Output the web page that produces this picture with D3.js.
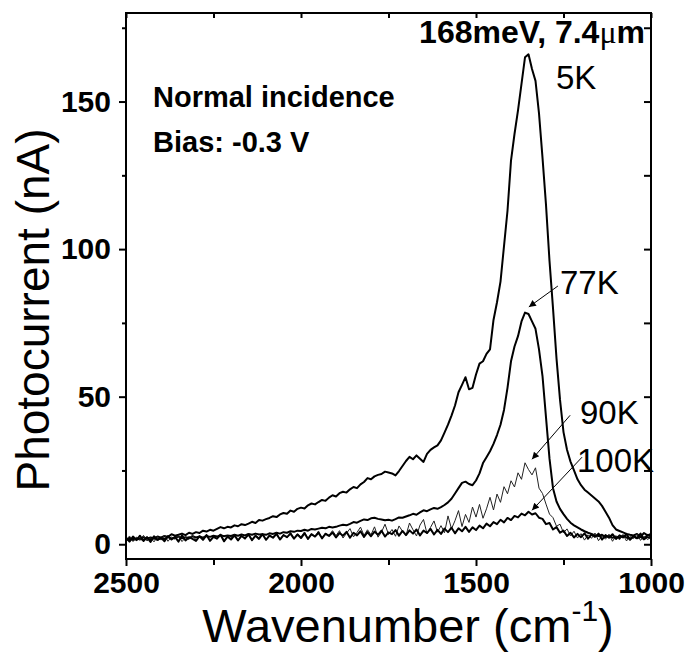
<!DOCTYPE html>
<html>
<head>
<meta charset="utf-8">
<script src="https://cdn.jsdelivr.net/npm/d3@7"></script>
<style>
  body { margin: 0; background: white; }
  svg { display: block; font-family: "Liberation Sans", Arial, sans-serif; }
</style>
</head>
<body>
<svg id="chart"></svg>
<script>
//wavenumber grid: 2500 -> 1000 cm-1, one value every 10 cm-1
const WN_START = 2500, WN_STEP = 10;

//photocurrent (nA), rows of 100 cm-1
const current5K = [
    1.5, 2.2, 1.4, 2.0, 1.6, 2.4, 1.8, 2.3, 2.0, 2.6,
    2.2, 2.8, 2.5, 3.4, 2.9, 3.2, 3.6, 3.1, 3.9, 3.5,
    4.1, 3.8, 4.6, 4.3, 4.9, 4.6, 5.2, 5.8, 5.4, 5.9,
    5.7, 6.4, 6.1, 6.8, 6.5, 7.0, 7.6, 7.2, 8.2, 8.0,
    8.5, 8.9, 9.5, 9.2, 10.1, 10.6, 10.3, 11.4, 11.0, 12.0,
    12.4, 12.1, 13.2, 13.8, 13.5, 14.3, 15.0, 14.7, 15.8, 16.6,
    16.2, 17.3, 17.8, 17.5, 18.6, 19.4, 19.0, 20.3, 21.1, 22.4,
    22.0, 23.0, 23.5, 23.8, 24.6, 24.3, 24.0, 23.3, 24.8, 26.5,
    28.2, 29.6, 28.8, 30.1, 29.0, 27.9, 30.6, 32.0, 32.8, 33.5,
    35.2, 37.8, 40.5, 43.6, 47.0, 51.5, 54.0, 56.6, 52.5, 53.0,
    57.5, 61.2, 62.0, 64.5, 66.0, 76.0, 82.0, 89.0, 101.0, 113.0,
    130.0, 139.0, 147.0, 156.0, 165.0, 166.0, 161.0, 157.0, 146.0, 131.0,
    115.0, 96.0, 80.0, 63.0, 49.0, 38.0, 32.0, 28.0, 25.0, 22.0,
    20.0, 18.5, 17.5, 16.5, 15.5, 14.5, 13.0, 11.0, 9.0, 6.5,
    5.0, 4.5, 4.0, 3.5, 3.2, 3.0, 3.5, 2.5, 3.8, 3.0,
    3.5
];

const current77K = [
    1.8, 1.3, 2.1, 1.6, 1.9, 1.4, 2.2, 1.7, 2.0, 1.5,
    2.1, 1.8, 2.4, 1.9, 2.2, 2.6, 2.0, 2.4, 2.1, 2.7,
    2.3, 2.6, 2.2, 2.8, 2.5, 2.9, 2.6, 3.1, 2.7, 3.0,
    2.8, 3.2, 2.9, 3.3, 3.0, 3.5, 3.2, 3.6, 3.3, 3.4,
    3.2, 3.7, 3.5, 3.9, 3.6, 4.1, 3.9, 4.4, 4.2, 4.6,
    4.5, 4.9, 4.6, 5.2, 5.0, 5.3, 5.6, 5.4, 5.9, 5.7,
    5.9, 6.3, 6.6, 6.4, 6.9, 7.5, 7.3, 7.9, 8.4, 8.2,
    8.8, 9.0, 8.6, 8.4, 8.1, 8.3, 8.0, 8.5, 9.1, 9.0,
    9.4, 9.8, 10.3, 10.0, 10.8, 11.5, 11.2, 11.8, 12.3, 12.0,
    12.6, 13.3, 14.2, 15.4, 17.2, 19.0, 20.8, 21.2, 20.4, 20.0,
    21.6, 24.0, 27.5, 29.5, 31.5, 34.0, 37.0, 40.5, 45.5, 53.0,
    62.0, 67.0, 70.5, 75.5, 78.5, 78.0, 75.5, 73.0, 66.0, 57.0,
    43.0, 29.0, 19.0, 14.5, 12.0, 10.2, 8.6, 7.3, 6.4, 5.7,
    5.0, 4.4, 3.9, 3.5, 3.0, 2.8, 3.2, 2.4, 2.9, 2.2,
    2.6, 2.1, 2.9, 2.3, 1.8, 2.7, 2.0, 2.5, 1.7, 2.4,
    2.0
];

const current90K = [
    1.2, 2.8, 0.9, 2.4, 1.5, 3.0, 1.1, 2.2, 0.8, 2.6,
    1.4, 3.1, 1.0, 2.5, 1.7, 2.9, 0.9, 2.3, 1.6, 3.2,
    1.3, 2.7, 1.9, 3.3, 1.0, 2.4, 1.8, 3.5, 1.2, 2.8,
    2.0, 3.4, 1.1, 2.9, 1.7, 3.6, 1.4, 3.0, 2.2, 3.7,
    1.5, 3.2, 2.4, 3.9, 1.6, 3.3, 2.1, 4.0, 1.8, 3.5,
    2.5, 4.2, 1.9, 3.6, 2.7, 4.5, 2.0, 3.8, 3.0, 4.6,
    2.9, 4.6, 2.1, 3.7, 5.3, 2.5, 4.0, 5.8, 3.0, 4.9,
    3.2, 5.9, 2.4, 4.1, 6.8, 3.3, 5.0, 2.7, 6.2, 4.4,
    3.0, 7.2, 4.9, 2.8, 6.5, 8.4, 3.6, 5.7, 7.9, 4.1,
    6.3, 3.9, 9.6, 5.2, 8.0, 11.4, 6.0, 10.1, 7.4, 12.6,
    9.2, 13.5, 8.8, 12.0, 15.9, 11.6, 17.0, 14.2, 19.5, 17.1,
    21.5, 19.4, 24.2, 22.0, 27.6, 25.3, 23.5, 25.9, 19.0, 17.2,
    13.6, 10.2, 9.0, 6.1, 6.8, 3.9, 5.2, 2.8, 4.4, 2.1,
    3.6, 1.4, 3.2, 2.0, 3.8, 1.2, 2.9, 1.7, 3.4, 1.0,
    2.8, 1.5, 3.3, 1.1, 2.6, 1.9, 3.5, 1.3, 2.7, 1.6,
    2.4
];

const current100K = [
    2.2, 0.9, 2.6, 1.4, 2.9, 1.1, 2.4, 0.8, 2.7, 1.5,
    2.3, 1.0, 2.8, 1.6, 2.5, 0.9, 3.0, 1.3, 2.4, 1.8,
    1.1, 2.7, 1.5, 3.1, 1.2, 2.5, 1.9, 3.2, 1.0, 2.6,
    1.6, 3.0, 1.3, 2.8, 2.0, 3.3, 1.4, 2.9, 1.8, 3.4,
    1.5, 2.9, 2.2, 3.5, 1.6, 3.1, 2.4, 3.6, 1.9, 3.3,
    2.1, 3.7, 1.8, 3.4, 2.6, 3.9, 2.0, 3.5, 2.8, 4.0,
    2.3, 3.8, 2.9, 4.2, 2.2, 3.9, 3.0, 4.4, 2.5, 4.1,
    2.7, 4.3, 3.2, 4.6, 2.6, 4.0, 3.4, 4.8, 2.9, 4.5,
    3.1, 4.7, 3.6, 5.0, 3.0, 4.6, 3.8, 5.2, 3.3, 4.9,
    3.5, 5.3, 4.1, 5.6, 3.7, 5.4, 4.4, 5.9, 4.2, 5.7,
    4.8, 6.3, 5.4, 7.0, 6.1, 7.5, 6.8, 8.3, 7.4, 8.9,
    8.2, 9.6, 9.1, 10.4, 9.8, 11.0, 10.1, 10.5, 9.0, 8.6,
    6.8, 7.2, 5.0, 5.8, 3.9, 4.6, 2.8, 3.9, 2.3, 3.5,
    2.4, 3.7, 1.9, 3.3, 2.5, 3.6, 1.6, 3.1, 2.2, 3.4,
    1.8, 3.0, 2.3, 3.5, 1.5, 2.8, 2.1, 3.6, 1.7, 3.2,
    2.6
];

//axis ticks
const xTicks = [2500, 2000, 1500, 1000];
const xMinorTicks = [2250, 1750, 1250];
const yTicks = [0, 50, 100, 150];
const yMinorTicks = [25, 75, 125, 175];

//setup chart
const width = 690, height = 652;
const margin = { top: 13, right: 39, bottom: 93, left: 126 };
const innerW = width - margin.left - margin.right;
const innerH = height - margin.top - margin.bottom;

const svg = d3.select("#chart")
    .attr("width", width)
    .attr("height", height);

const g = svg.append("g")
    .attr("transform", `translate(${margin.left},${margin.top})`);

//x axis reversed (high wavenumber on the left)
const x = d3.scaleLinear().domain([2500, 1000]).range([0, innerW]);
const y = d3.scaleLinear().domain([-5, 180]).range([innerH, 0]);

g.append("defs").append("clipPath")
    .attr("id", "clip")
    .append("rect")
    .attr("width", innerW)
    .attr("height", innerH);

//arrow head for the labels
svg.append("defs").append("marker")
    .attr("id", "arrow")
    .attr("viewBox", "0 0 10 10")
    .attr("refX", 10)
    .attr("refY", 5)
    .attr("markerWidth", 10)
    .attr("markerHeight", 7)
    .attr("markerUnits", "userSpaceOnUse")
    .attr("orient", "auto")
    .append("path")
    .attr("d", "M0,0 L10,5 L0,10 Z")
    .attr("fill", "black");

//curves
const series = [
    { name: "5K", values: current5K, width: 2, color: "#000" },
    { name: "77K", values: current77K, width: 2, color: "#000" },
    { name: "90K", values: current90K, width: 1, color: "#222" },
    { name: "100K", values: current100K, width: 2, color: "#000" }
];

const line = d3.line()
    .x((d, i) => x(WN_START - i * WN_STEP))
    .y(d => y(d));

g.append("g")
    .attr("clip-path", "url(#clip)")
    .selectAll("path")
    .data(series)
    .join("path")
    .attr("d", d => line(d.values))
    .attr("fill", "none")
    .attr("stroke", d => d.color)
    .attr("stroke-width", d => d.width)
    .attr("stroke-linejoin", "round");

//axes: outward ticks left/bottom, inward ticks top/right
function tickStyle(sel) {
    sel.select(".domain").remove();
    sel.selectAll("line").attr("stroke", "black").attr("stroke-width", 2);
}

g.append("g")
    .attr("transform", `translate(0,${innerH})`)
    .call(d3.axisBottom(x).tickValues(xTicks).tickSize(7).tickPadding(6).tickFormat(d3.format("d")))
    .call(tickStyle)
    .call(s => s.selectAll("text").style("font-size", "30px").style("font-weight", "bold").attr("fill", "black"));
g.append("g")
    .attr("transform", `translate(0,${innerH})`)
    .call(d3.axisBottom(x).tickValues(xMinorTicks).tickSize(6).tickFormat(""))
    .call(tickStyle);

g.append("g")
    .call(d3.axisLeft(y).tickValues(yTicks).tickSize(7).tickPadding(8))
    .call(tickStyle)
    .call(s => s.selectAll("text").style("font-size", "30px").style("font-weight", "bold").attr("fill", "black"));
g.append("g")
    .call(d3.axisLeft(y).tickValues(yMinorTicks).tickSize(4).tickFormat(""))
    .call(tickStyle);

g.append("g")
    .call(d3.axisTop(x).tickValues(xTicks.concat(xMinorTicks)).tickSize(-5).tickFormat(""))
    .call(tickStyle);
g.append("g")
    .attr("transform", `translate(${innerW},0)`)
    .call(d3.axisRight(y).tickValues(yTicks.concat(yMinorTicks)).tickSize(-7).tickFormat(""))
    .call(tickStyle);

//frame
g.append("rect")
    .attr("width", innerW)
    .attr("height", innerH)
    .attr("fill", "none")
    .attr("stroke", "black")
    .attr("stroke-width", 2);

//axis titles
const xTitle = svg.append("text")
    .attr("x", 408)
    .attr("y", 642)
    .attr("text-anchor", "middle")
    .style("font-size", "47px");
xTitle.append("tspan").text("Wavenumber (cm");
xTitle.append("tspan").attr("dy", -21).style("font-size", "30px").text("-1");
xTitle.append("tspan").attr("dy", 21).text(")");

svg.append("text")
    .attr("transform", "translate(49,310) rotate(-90)")
    .attr("text-anchor", "middle")
    .style("font-size", "46px")
    .text("Photocurrent (nA)");

//annotations
const title = svg.append("text")
    .attr("x", 645)
    .attr("y", 43)
    .attr("text-anchor", "end")
    .style("font-size", "32px")
    .style("font-weight", "bold");
title.append("tspan").text("168meV, 7.4");
title.append("tspan").style("font-family", "'Liberation Serif', serif").style("font-weight", "normal").text("μ");
title.append("tspan").text("m");

svg.append("text").attr("x", 153).attr("y", 107)
    .style("font-size", "29px").style("font-weight", "bold").text("Normal incidence");
svg.append("text").attr("x", 153).attr("y", 152)
    .style("font-size", "29px").style("font-weight", "bold").text("Bias: -0.3 V");

const labels = [
    { text: "5K", x: 556, y: 89 },
    { text: "77K", x: 560, y: 294 },
    { text: "90K", x: 580, y: 424 },
    { text: "100K", x: 577, y: 472 }
];
svg.selectAll("text.lbl")
    .data(labels)
    .join("text")
    .attr("class", "lbl")
    .attr("x", d => d.x)
    .attr("y", d => d.y)
    .style("font-size", "33px")
    .text(d => d.text);

//arrows, in data units (wavenumber, nA)
const arrows = [
    { from: [1266, 87.5], to: [1349, 80.4] },
    { from: [1231, 43.7], to: [1340, 28.8] },
    { from: [1197, 29.5], to: [1340, 11.5] }
];
g.selectAll("line.arrow")
    .data(arrows)
    .join("line")
    .attr("class", "arrow")
    .attr("x1", d => x(d.from[0]))
    .attr("y1", d => y(d.from[1]))
    .attr("x2", d => x(d.to[0]))
    .attr("y2", d => y(d.to[1]))
    .attr("stroke", "black")
    .attr("stroke-width", 1)
    .attr("marker-end", "url(#arrow)");
</script>
</body>
</html>
